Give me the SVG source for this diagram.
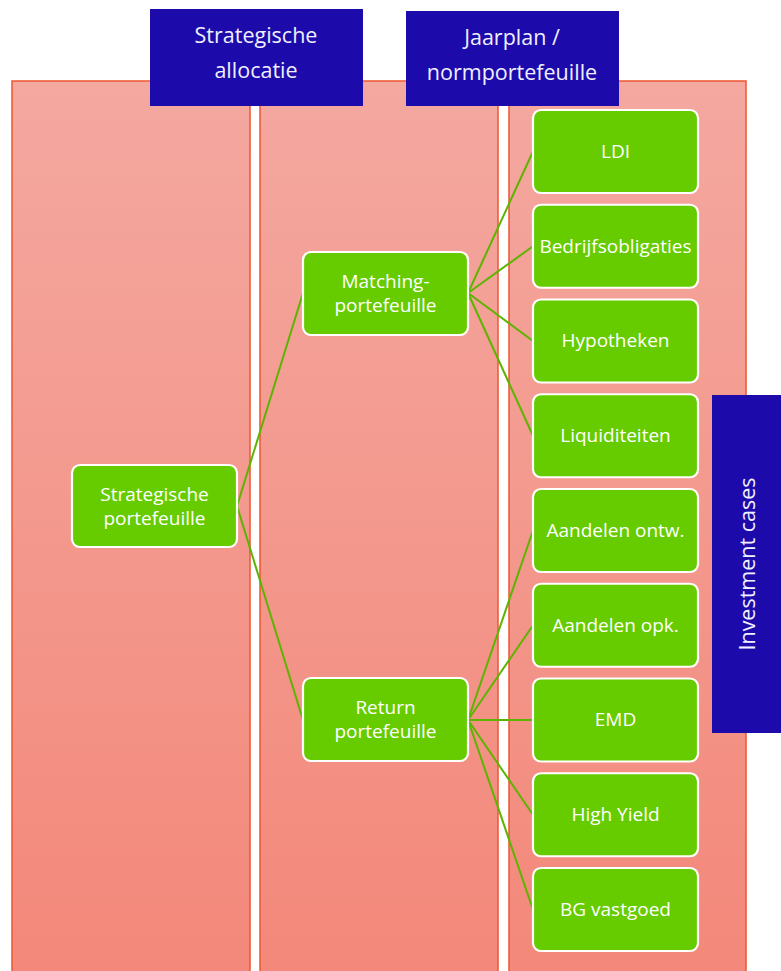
<svg xmlns="http://www.w3.org/2000/svg" width="781" height="971" viewBox="0 0 781 971">
<defs>
<linearGradient id="colg" x1="0" y1="0" x2="0" y2="1">
<stop offset="0" stop-color="#F4A8A0"/>
<stop offset="1" stop-color="#F3887A"/>
</linearGradient>
<style>
.col{fill:url(#colg);stroke:#EE5530;stroke-width:1.5}
.hdr{fill:#1D0AAA}
.ht{font-family:"Open Sans","Noto Sans",sans-serif;font-size:21.5px;fill:#F0F0FF;text-anchor:middle}
.node{fill:#66CC00;stroke:#FFFFFF;stroke-width:2.2}
.nt{font-family:"Open Sans","Noto Sans",sans-serif;font-size:19px;fill:#FFFFFF;text-anchor:middle}
.con{stroke:#5CB400;stroke-width:2;fill:none}
</style>
</defs>
<rect width="781" height="971" fill="#FFFFFF"/>
<g id="columns">
<rect class="col" x="12" y="81" width="238" height="900"/>
<rect class="col" x="260" y="81" width="238" height="900"/>
<rect class="col" x="509" y="81" width="237" height="900"/>
</g>
<g id="header-strategische-allocatie">
<rect class="hdr" x="150" y="9" width="213" height="97"/>
<text class="ht" x="256" y="43">Strategische</text>
<text class="ht" x="256" y="78">allocatie</text>
</g>
<g id="header-jaarplan">
<rect class="hdr" x="406" y="11" width="213" height="95"/>
<text class="ht" x="512" y="45">Jaarplan /</text>
<text class="ht" x="512" y="80">normportefeuille</text>
</g>
<g id="header-investment-cases">
<rect class="hdr" x="712" y="395" width="69" height="338"/>
<text class="ht" transform="translate(755,564) rotate(-90)" x="0" y="0">Investment cases</text>
</g>
<g id="connectors">
<line class="con" x1="237" y1="506" x2="303" y2="293"/>
<line class="con" x1="237" y1="506" x2="303" y2="720"/>
<line class="con" x1="468" y1="293" x2="533" y2="151.5"/>
<line class="con" x1="468" y1="293" x2="533" y2="246.25"/>
<line class="con" x1="468" y1="293" x2="533" y2="341"/>
<line class="con" x1="468" y1="293" x2="533" y2="435.75"/>
<line class="con" x1="468" y1="720" x2="533" y2="530.5"/>
<line class="con" x1="468" y1="720" x2="533" y2="625.25"/>
<line class="con" x1="468" y1="720" x2="533" y2="720"/>
<line class="con" x1="468" y1="720" x2="533" y2="814.75"/>
<line class="con" x1="468" y1="720" x2="533" y2="909.5"/>
</g>
<g id="node-strategische-portefeuille">
<rect class="node" x="72" y="465" width="165" height="82" rx="8"/>
<text class="nt" x="154.5" y="501">Strategische</text>
<text class="nt" x="154.5" y="525">portefeuille</text>
</g>
<g id="node-matching">
<rect class="node" x="303" y="252" width="165" height="83" rx="8"/>
<text class="nt" x="385.5" y="288">Matching-</text>
<text class="nt" x="385.5" y="312">portefeuille</text>
</g>
<g id="node-return">
<rect class="node" x="303" y="678" width="165" height="83" rx="8"/>
<text class="nt" x="385.5" y="714">Return</text>
<text class="nt" x="385.5" y="738">portefeuille</text>
</g>
<g id="node-ldi">
<rect class="node" x="533" y="110" width="165" height="83" rx="8"/>
<text class="nt" x="615.5" y="158">LDI</text>
</g>
<g id="node-bedrijfsobligaties">
<rect class="node" x="533" y="204.75" width="165" height="83" rx="8"/>
<text class="nt" x="615.5" y="252.5">Bedrijfsobligaties</text>
</g>
<g id="node-hypotheken">
<rect class="node" x="533" y="299.5" width="165" height="83" rx="8"/>
<text class="nt" x="615.5" y="347">Hypotheken</text>
</g>
<g id="node-liquiditeiten">
<rect class="node" x="533" y="394.25" width="165" height="83" rx="8"/>
<text class="nt" x="615.5" y="442">Liquiditeiten</text>
</g>
<g id="node-aandelen-ontw">
<rect class="node" x="533" y="489" width="165" height="83" rx="8"/>
<text class="nt" x="615.5" y="536.5">Aandelen ontw.</text>
</g>
<g id="node-aandelen-opk">
<rect class="node" x="533" y="583.75" width="165" height="83" rx="8"/>
<text class="nt" x="615.5" y="631.5">Aandelen opk.</text>
</g>
<g id="node-emd">
<rect class="node" x="533" y="678.5" width="165" height="83" rx="8"/>
<text class="nt" x="615.5" y="726">EMD</text>
</g>
<g id="node-high-yield">
<rect class="node" x="533" y="773.25" width="165" height="83" rx="8"/>
<text class="nt" x="615.5" y="821">High Yield</text>
</g>
<g id="node-bg-vastgoed">
<rect class="node" x="533" y="868" width="165" height="83" rx="8"/>
<text class="nt" x="615.5" y="915.5">BG vastgoed</text>
</g>
</svg>
